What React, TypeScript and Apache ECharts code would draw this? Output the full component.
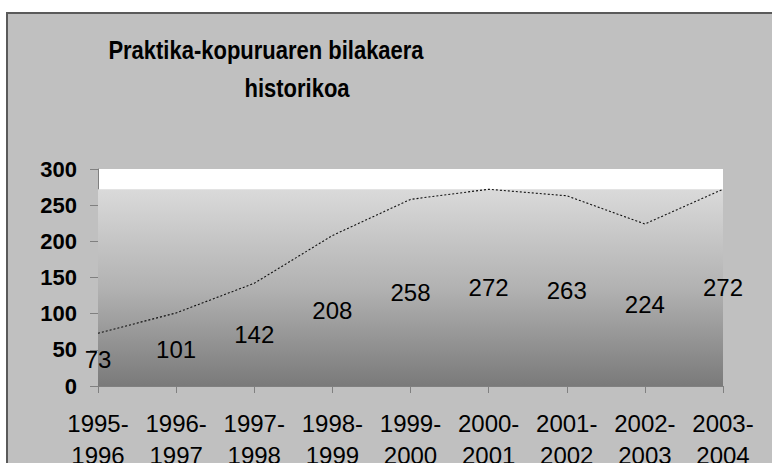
import React, { useEffect, useRef } from "react";
import * as echarts from "echarts";

const categories = [
  "1995-\n1996",
  "1996-\n1997",
  "1997-\n1998",
  "1998-\n1999",
  "1999-\n2000",
  "2000-\n2001",
  "2001-\n2002",
  "2002-\n2003",
  "2003-\n2004",
];
const values = [73, 101, 142, 208, 258, 272, 263, 224, 272];
const yTicks = { min: 0, max: 300, interval: 50 };
const titleLine1 = "Praktika-kopuruaren bilakaera";
const titleLine2 = "historikoa";

const FONT = "'Liberation Sans', Arial, sans-serif";

export default function App() {
  const ref = useRef<HTMLDivElement>(null);
  useEffect(() => {
    if (!ref.current) return;
    const chart = echarts.init(ref.current, undefined, { renderer: "svg" });
    const topVal = Math.max(...values);
    chart.setOption({
      animation: false,
      backgroundColor: "#ffffff",
      graphic: [
        {
          type: "rect",
          shape: { x: 7, y: 13, width: 800, height: 500 },
          style: { fill: "#c0c0c0", stroke: "#5a5a5a", lineWidth: 2 },
          z: -10,
        },
        {
          type: "text",
          x: 266,
          y: 50,
          scaleY: 1.15,
          style: {
            text: titleLine1,
            font: `bold 22px ${FONT}`,
            fill: "#000",
            textAlign: "center",
            textVerticalAlign: "middle",
          },
        },
        {
          type: "text",
          x: 297,
          y: 88,
          scaleY: 1.15,
          style: {
            text: titleLine2,
            font: `bold 22px ${FONT}`,
            fill: "#000",
            textAlign: "center",
            textVerticalAlign: "middle",
          },
        },
      ],
      grid: {
        left: 98,
        right: 49,
        top: 169,
        bottom: 77,
        outerBoundsMode: "none",
        containLabel: false,
        show: true,
        backgroundColor: "#ffffff",
        borderWidth: 0,
      },
      xAxis: {
        type: "category",
        data: categories,
        boundaryGap: false,
        axisLine: { lineStyle: { color: "#808080", width: 1 } },
        axisTick: { show: true, length: 7, lineStyle: { color: "#808080" } },
        axisLabel: {
          fontFamily: FONT,
          fontSize: 24,
          color: "#000",
          margin: 21,
          lineHeight: 32,
          interval: 0,
        },
        splitLine: { show: false },
      },
      yAxis: {
        type: "value",
        min: yTicks.min,
        max: yTicks.max,
        interval: yTicks.interval,
        axisLine: { show: true, lineStyle: { color: "#808080", width: 1 } },
        axisTick: { show: true, length: 8, lineStyle: { color: "#808080" } },
        axisLabel: {
          fontFamily: FONT,
          fontSize: 22,
          fontWeight: "bold",
          color: "#000",
          margin: 21,
        },
        splitLine: { show: false },
      },
      series: [
        {
          type: "line",
          data: values,
          symbol: "none",
          z: 5,
          lineStyle: { color: "#111", width: 1.1, type: [2, 2] },
          markArea: {
            silent: true,
            z: 1,
            itemStyle: {
              color: new echarts.graphic.LinearGradient(0, 0, 0, 1, [
                { offset: 0, color: "#dadada" },
                { offset: 0.5, color: "#b2b2b2" },
                { offset: 1, color: "#7a7a7a" },
              ]),
            },
            data: [[{ yAxis: 0 }, { yAxis: topVal }]],
          },
        },
        {
          type: "bar",
          data: values,
          barWidth: 10,
          z: 6,
          itemStyle: { color: "rgba(0,0,0,0)" },
          label: {
            show: true,
            position: "inside",
            fontFamily: FONT,
            fontSize: 24,
            color: "#000",
          },
        },
      ],
    });
    return () => chart.dispose();
  }, []);
  return (
    <div
      ref={ref}
      style={{ position: "fixed", left: 0, top: 0, width: 772, height: 463 }}
    />
  );
}
